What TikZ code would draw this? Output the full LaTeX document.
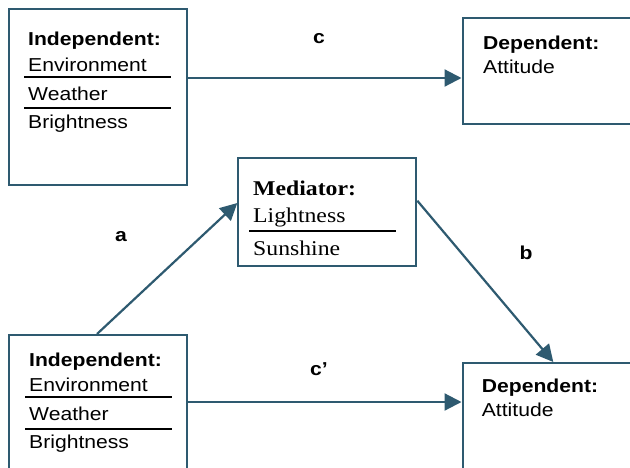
\documentclass[tikz,border=0pt]{standalone}
\usepackage{fontspec}
\usetikzlibrary{arrows.meta}
\newfontfamily\sansx[FakeStretch=1.13]{Liberation Sans}
\newfontfamily\serifx[FakeStretch=1.13]{Liberation Serif}
\definecolor{edge}{RGB}{46,90,112}
\tikzset{
  box/.style={draw=edge, line width=2pt, fill=white, anchor=north west, inner sep=0pt},
  txt/.style={anchor=base west, inner sep=0pt, font=\sansx\fontsize{18.7}{20}\selectfont},
  stxt/.style={anchor=base west, inner sep=0pt, font=\serifx\fontsize{21}{22}\selectfont},
  lbl/.style={inner sep=0pt, font=\sansx\bfseries\fontsize{18.7}{20}\selectfont},
  sep/.style={draw=black, line width=1.6pt},
  arr/.style={draw=edge, line width=2.2pt, -{Triangle[length=17pt,width=17pt]}}
}
\begin{document}
\begin{tikzpicture}[x=1pt, y=-1pt]
\useasboundingbox (0,0) rectangle (630,467);
\clip (0,0) rectangle (630,467);

% boxes
\node[box, minimum width=178pt, minimum height=176pt] (iv1) at (8,8) {};
\node[box, minimum width=190pt, minimum height=106pt] (dv1) at (461.5,16.5) {};
\node[box, minimum width=178pt, minimum height=108pt] (med) at (237.3,157.3) {};
\node[box, minimum width=178pt, minimum height=160pt] (iv2) at (8.3,334) {};
\node[box, minimum width=190pt, minimum height=130pt] (dv2) at (461.5,362) {};

% top independent block
\node[txt] (iv1h) at (28,45) {\bfseries Independent:};
\node[txt] (iv1a) at (28,71) {Environment};
\node[txt] (iv1b) at (28,100.7) {Weather};
\node[txt] (iv1c) at (28,128) {Brightness};
\draw[sep] (24,77) -- (171,77);
\draw[sep] (24,107.7) -- (171,107.7);

% bottom independent block
\node[txt] (iv2h) at (29,366.7) {\bfseries Independent:};
\node[txt] (iv2a) at (29,391) {Environment};
\node[txt] (iv2b) at (29,420.7) {Weather};
\node[txt] (iv2c) at (29,448.3) {Brightness};
\draw[sep] (25,397) -- (171.7,397);
\draw[sep] (25,428.7) -- (171.7,428.7);

% mediator block
\node[stxt] (medh) at (253,195) {\bfseries Mediator:};
\node[stxt] (meda) at (253,222) {Lightness};
\node[stxt] (medb) at (253,255) {Sunshine};
\draw[sep] (249,231) -- (395.7,231);

% dependent blocks
\node[txt] (dv1h) at (483,49) {\bfseries Dependent:};
\node[txt] (dv1a) at (483,73) {Attitude};
\node[txt] (dv2h) at (481.7,392.3) {\bfseries Dependent:};
\node[txt] (dv2a) at (481.7,416.7) {Attitude};

% path labels
\node[lbl] (lc) at (319,39) {c};
\node[lbl] (la) at (121,237) {a};
\node[lbl] (lb) at (526,253) {b};
\node[lbl] (lcp) at (319,369) {c’};

% connectors
\coordinate (cy) at (0,78);
\coordinate (cpy) at (0,402);
\coordinate (ax) at (97,0);
\coordinate (ay) at (0,203);
\coordinate (by) at (0,200.7);
\coordinate (bx) at (553.3,0);
\draw[arr] (iv1.east |- cy) -- (dv1.west |- cy);
\draw[arr] (iv2.east |- cpy) -- (dv2.west |- cpy);
\draw[arr] (iv2.north -| ax) -- (med.west |- ay);
\draw[arr] (med.east |- by) -- (dv2.north -| bx);
\end{tikzpicture}
\end{document}
